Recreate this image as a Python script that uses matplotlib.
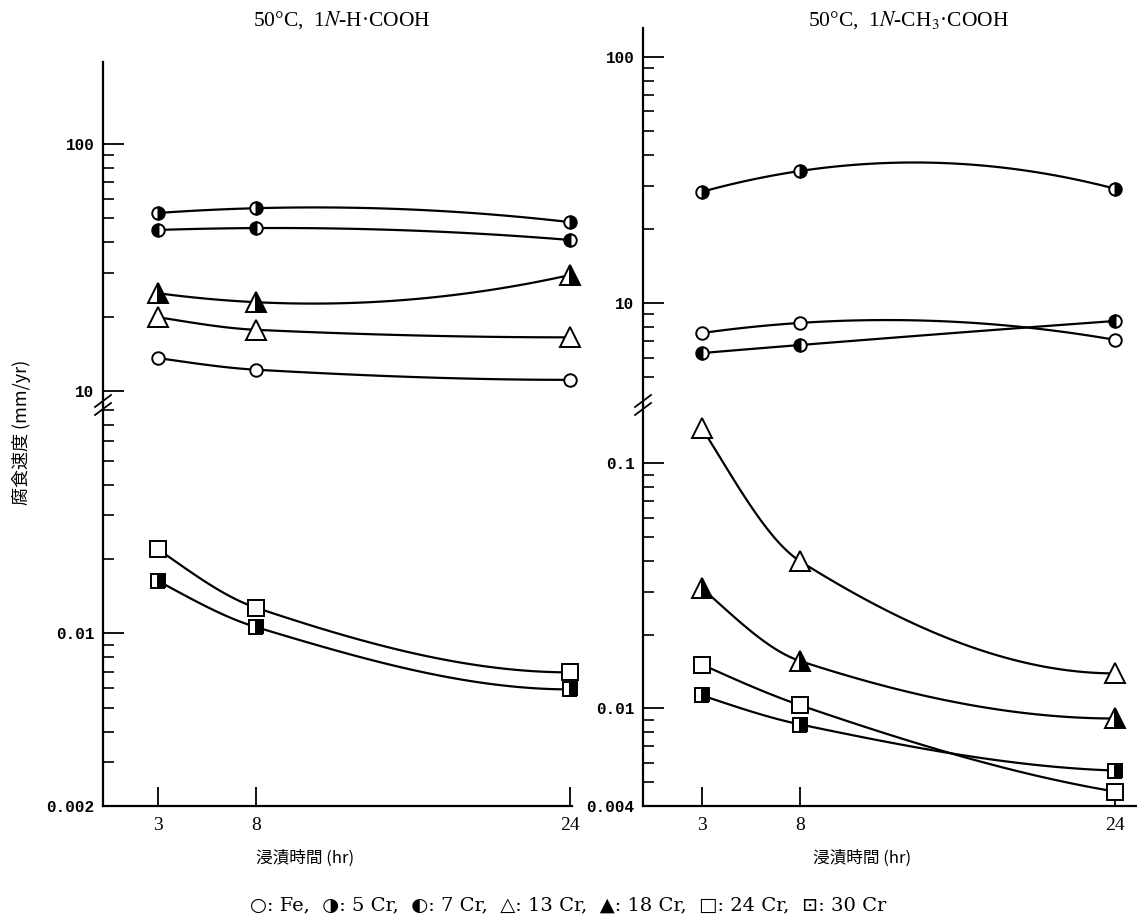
import numpy as np
import matplotlib
matplotlib.use('Agg')
import matplotlib.pyplot as plt

plt.rcParams['font.family'] = ['Liberation Serif', 'DejaVu Sans']
plt.rcParams['mathtext.fontset'] = 'stix'

# immersion time [hr]
hours = [3, 8, 24]

# 50 C, 1N formic acid  [mm/yr]
hcooh_fe = [13.6, 12.2, 11.1]
hcooh_5cr = [52.6, 55.0, 48.3]
hcooh_7cr = [44.9, 45.7, 40.9]
hcooh_13cr = [19.9, 17.7, 16.5]
hcooh_18cr = [24.9, 22.9, 29.5]
hcooh_24cr = [0.0219, 0.0127, 0.00695]
hcooh_30cr = [0.0163, 0.0106, 0.00593]

# 50 C, 1N acetic acid  [mm/yr]
acoh_fe = [7.55, 8.3, 7.08]
acoh_5cr = [28.3, 34.4, 29.1]
acoh_7cr = [6.26, 6.75, 8.45]
acoh_13cr = [0.139, 0.0398, 0.0139]
acoh_18cr = [0.0309, 0.0156, 0.0091]
acoh_24cr = [0.0151, 0.0103, 0.00458]
acoh_30cr = [0.0113, 0.0086, 0.00558]

titles = ['50°C,  1$\\mathit{N}$-H·COOH', '50°C,  1$\\mathit{N}$-CH$_3$·COOH']
ylabel = '腐食速度 (mm/yr)'
xlabel = '浸漬時間 (hr)'
legend_text = '○: Fe,  ◑: 5 Cr,  ◐: 7 Cr,  △: 13 Cr,  ▲: 18 Cr,  □: 24 Cr,  ⊡: 30 Cr'

# marker styles
sty = {
    'fe':   dict(marker='o', ms=9, mfc='white'),
    '5cr':  dict(marker='o', ms=9, mfc='black', fillstyle='right', markerfacecoloralt='white'),
    '7cr':  dict(marker='o', ms=9, mfc='black', fillstyle='left', markerfacecoloralt='white'),
    '13cr': dict(marker='^', ms=14, mfc='white'),
    '18cr': dict(marker='^', ms=14, mfc='black', fillstyle='right', markerfacecoloralt='white'),
    '24cr': dict(marker='s', ms=11, mfc='white'),
    '30cr': dict(marker='s', ms=10, mfc='black', fillstyle='right', markerfacecoloralt='white'),
}


def smooth(x, y, n=60):
    # hand-drawn looking curve through the points (cubic Hermite in log space)
    x = np.asarray(x, float)
    ly = np.log10(y)
    h = np.diff(x)
    d = np.diff(ly) / h
    m = np.zeros(3)
    if d[0] * d[1] > 0:
        w1 = 2 * h[1] + h[0]
        w2 = h[1] + 2 * h[0]
        m[1] = (w1 + w2) / (w1 / d[0] + w2 / d[1])
    else:
        m[1] = (h[1] * d[0] + h[0] * d[1]) / (h[0] + h[1])
    m[0] = ((2 * h[0] + h[1]) * d[0] - h[0] * d[1]) / (h[0] + h[1])
    if np.sign(m[0]) != np.sign(d[0]):
        m[0] = 0
    m[2] = ((2 * h[1] + h[0]) * d[1] - h[1] * d[0]) / (h[0] + h[1])
    if np.sign(m[2]) != np.sign(d[1]):
        m[2] = 0
    xs, ys = [], []
    for i in range(2):
        t = np.linspace(0, 1, n)
        h00 = 2 * t**3 - 3 * t**2 + 1
        h10 = t**3 - 2 * t**2 + t
        h01 = -2 * t**3 + 3 * t**2
        h11 = t**3 - t**2
        xs.append(x[i] + t * h[i])
        ys.append(h00 * ly[i] + h10 * h[i] * m[i] + h01 * ly[i + 1] + h11 * h[i] * m[i + 1])
    return np.concatenate(xs), 10 ** np.concatenate(ys)


def draw(ax, vals, key):
    xs, ys = smooth(hours, vals)
    ax.plot(xs, ys, '-', color='black', lw=1.6, zorder=2)
    ax.plot(hours, vals, linestyle='none', mec='black', mew=1.4, zorder=3, clip_on=False, **sty[key])


def setup(ax, ylim, majors, labels, minors):
    ax.set_yscale('log')
    ax.set_ylim(*ylim)
    ax.set_yticks(majors, labels)
    ax.set_yticks(minors, minor=True)
    ax.yaxis.set_minor_formatter(plt.NullFormatter())
    ax.tick_params(axis='y', which='major', direction='in', length=15, width=1.3, pad=6)
    ax.tick_params(axis='y', which='minor', direction='in', length=8, width=1.2)
    for lab in ax.get_yticklabels():
        lab.set_family('Liberation Mono')
        lab.set_fontweight('bold')
        lab.set_fontsize(11.5)
    ax.spines['top'].set_visible(False)
    ax.spines['right'].set_visible(False)
    ax.spines['left'].set_linewidth(1.6)
    ax.spines['bottom'].set_linewidth(1.6)
    ax.patch.set_alpha(0)


W, H = 1137, 919
fig = plt.figure(figsize=(W / 100, H / 100), dpi=100)


def box(x0, x1, y0, y1):
    return [x0 / W, 1 - y1 / H, (x1 - x0) / W, (y1 - y0) / H]


panels = [
    dict(x0=103, x1=572, xlim=(0.2, 24.1), up_top=62, yb=405, bottom=806,
         up_lim=(8.78, 215), lo_lim=(0.002, 0.084),
         up_major=[10, 100], up_lab=['10', '100'],
         up_minor=[20, 30, 40, 50, 60, 70, 80, 90],
         lo_major=[0.002, 0.01], lo_lab=['0.002', '0.01'],
         lo_minor=[0.003, 0.004, 0.005, 0.006, 0.007, 0.008, 0.009,
                   0.02, 0.03, 0.04, 0.05, 0.06, 0.07, 0.08],
         up=dict(fe=hcooh_fe, **{'5cr': hcooh_5cr, '7cr': hcooh_7cr,
                                 '13cr': hcooh_13cr, '18cr': hcooh_18cr}),
         lo={'24cr': hcooh_24cr, '30cr': hcooh_30cr}),
    dict(x0=643, x1=1137, xlim=(0.0, 25.1), up_top=28, yb=405, bottom=806,
         up_lim=(3.85, 131), lo_lim=(0.004, 0.173),
         up_major=[10, 100], up_lab=['10', '100'],
         up_minor=[5, 6, 7, 8, 9, 20, 30, 40, 50, 60, 70, 80, 90],
         lo_major=[0.004, 0.01, 0.1], lo_lab=['0.004', '0.01', '0.1'],
         lo_minor=[0.005, 0.006, 0.007, 0.008, 0.009,
                   0.02, 0.03, 0.04, 0.05, 0.06, 0.07, 0.08, 0.09],
         up=dict(fe=acoh_fe, **{'5cr': acoh_5cr, '7cr': acoh_7cr}),
         lo={'13cr': acoh_13cr, '18cr': acoh_18cr, '24cr': acoh_24cr, '30cr': acoh_30cr}),
]

for k, p in enumerate(panels):
    ax_lo = fig.add_axes(box(p['x0'], p['x1'], p['yb'], p['bottom']))
    ax_up = fig.add_axes(box(p['x0'], p['x1'], p['up_top'], p['yb']), sharex=ax_lo)
    setup(ax_up, p['up_lim'], p['up_major'], p['up_lab'], p['up_minor'])
    setup(ax_lo, p['lo_lim'], p['lo_major'], p['lo_lab'], p['lo_minor'])
    ax_up.spines['bottom'].set_visible(False)
    ax_up.tick_params(axis='x', which='both', bottom=False, labelbottom=False)

    ax_lo.set_xlim(*p['xlim'])
    ax_lo.set_xticks(hours, [str(h) for h in hours])
    ax_lo.tick_params(axis='x', direction='in', length=14, width=1.3, pad=8, labelsize=14)
    ax_lo.set_xticks([], minor=True)

    for key, vals in p['up'].items():
        draw(ax_up, vals, key)
    for key, vals in p['lo'].items():
        draw(ax_lo, vals, key)

    # axis break marks
    wpx = p['x1'] - p['x0']
    hpx = p['bottom'] - p['yb']
    for off in (-4, 4):
        ax_lo.plot([-8 / wpx, 8 / wpx], [1 + (off - 6) / hpx, 1 + (off + 6) / hpx],
                   color='black', lw=1.3, transform=ax_lo.transAxes, clip_on=False)

    xc = [305, 862][k]
    fig.text(xc / W, 1 - 858 / H, xlabel, ha='center', va='center', fontsize=12,
             family=['Noto Sans CJK JP', 'DejaVu Sans'])
    tc = [342, 908][k]
    fig.text(tc / W, 1 - 20 / H, titles[k], ha='center', va='center', fontsize=15.5)

fig.text(22 / W, 1 - 432 / H, ylabel, rotation=90, ha='center', va='center', fontsize=13,
         family=['Noto Sans CJK JP', 'DejaVu Sans'])
fig.text(568 / W, 1 - 905 / H, legend_text, ha='center', va='center', fontsize=14,
         family=['DejaVu Serif', 'DejaVu Sans'])

fig.savefig('out.png', dpi=100)
